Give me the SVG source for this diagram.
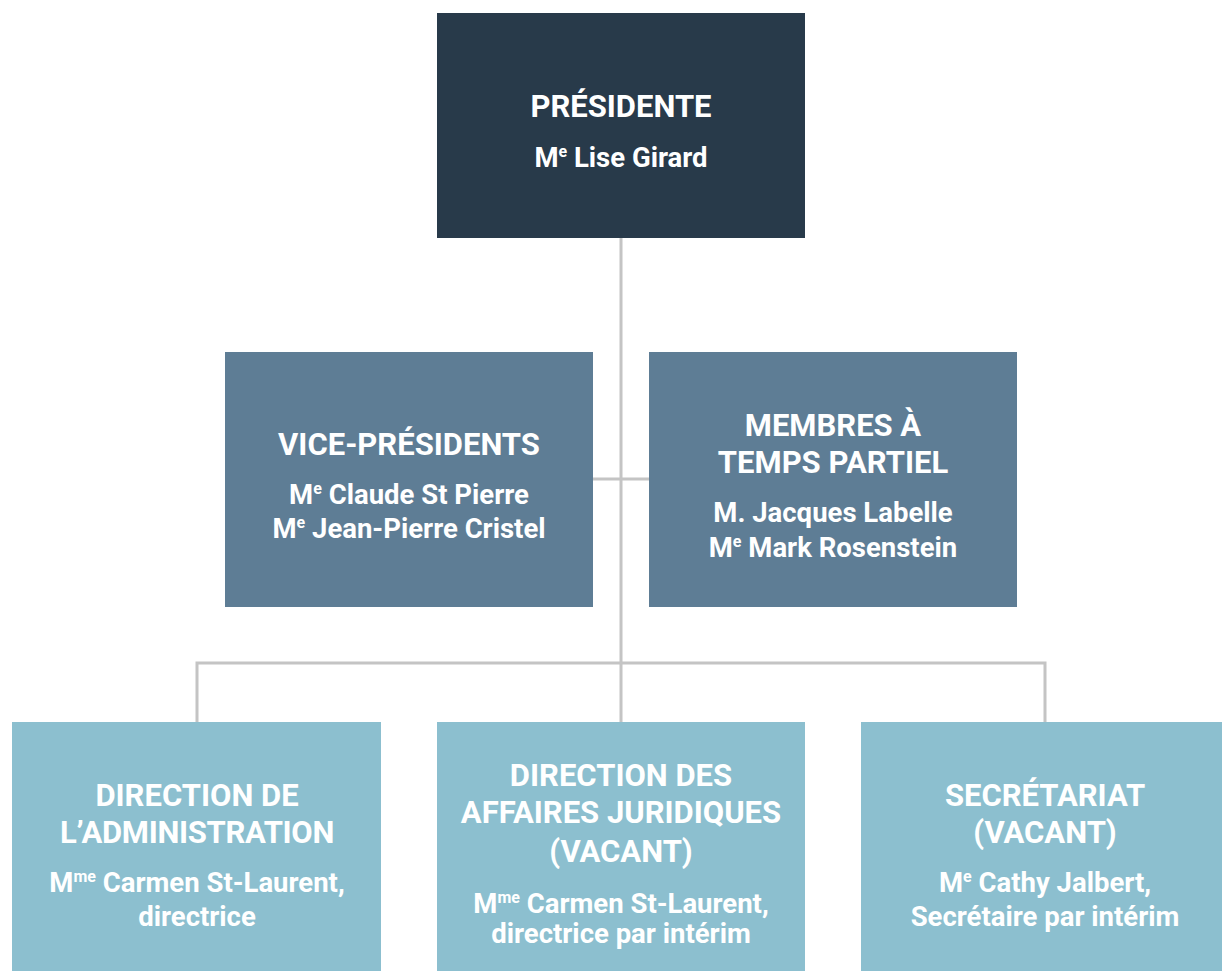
<svg xmlns="http://www.w3.org/2000/svg" width="1222" height="971" viewBox="0 0 1222 971">
<style>
.dark{fill:#283a4a}
.mid{fill:#5e7d95}
.light{fill:#8cbfcf}
.t{font-family:Roboto,"Liberation Sans",sans-serif;font-weight:700;fill:#ffffff;text-anchor:middle}
.h{font-size:31px}
.n{font-size:27.5px}
.sup{font-size:16px}
.conn{stroke:#c4c4c4;stroke-width:3;fill:none}
</style>
<rect width="1222" height="971" fill="#ffffff"/>
<g id="connectors">
<path class="conn" d="M621 238V722M593 479H649M197 722V663H1045V722"/>
</g>
<g id="presidente">
<rect class="dark" x="437" y="13" width="368" height="225"/>
<text class="t h" x="621" y="117">PRÉSIDENTE</text>
<text class="t n" x="621" y="167">M<tspan class="sup" dy="-10">e</tspan><tspan dy="10"> Lise Girard</tspan></text>
</g>
<g id="vice-presidents">
<rect class="mid" x="225" y="352" width="368" height="255"/>
<text class="t h" x="409" y="455">VICE-PRÉSIDENTS</text>
<text class="t n" x="409" y="504">M<tspan class="sup" dy="-10">e</tspan><tspan dy="10"> Claude St Pierre</tspan></text>
<text class="t n" x="409" y="538">M<tspan class="sup" dy="-10">e</tspan><tspan dy="10"> Jean-Pierre Cristel</tspan></text>
</g>
<g id="membres">
<rect class="mid" x="649" y="352" width="368" height="255"/>
<text class="t h" x="833" y="436">MEMBRES À</text>
<text class="t h" x="833" y="473">TEMPS PARTIEL</text>
<text class="t n" x="833" y="522">M. Jacques Labelle</text>
<text class="t n" x="833" y="557">M<tspan class="sup" dy="-10">e</tspan><tspan dy="10"> Mark Rosenstein</tspan></text>
</g>
<g id="administration">
<rect class="light" x="12" y="722" width="369" height="249"/>
<text class="t h" x="197" y="806">DIRECTION DE</text>
<text class="t h" x="197" y="843" letter-spacing="-0.3">L’ADMINISTRATION</text>
<text class="t n" x="197" y="892">M<tspan class="sup" dy="-10">me</tspan><tspan dy="10"> Carmen St-Laurent,</tspan></text>
<text class="t n" x="197" y="926">directrice</text>
</g>
<g id="affaires-juridiques">
<rect class="light" x="437" y="722" width="368" height="249"/>
<text class="t h" x="621" y="786">DIRECTION DES</text>
<text class="t h" x="621" y="823">AFFAIRES JURIDIQUES</text>
<text class="t h" x="621" y="862">(VACANT)</text>
<text class="t n" x="621" y="913">M<tspan class="sup" dy="-10">me</tspan><tspan dy="10"> Carmen St-Laurent,</tspan></text>
<text class="t n" x="621" y="943">directrice par intérim</text>
</g>
<g id="secretariat">
<rect class="light" x="861" y="722" width="361" height="249"/>
<text class="t h" x="1045" y="806">SECRÉTARIAT</text>
<text class="t h" x="1045" y="843">(VACANT)</text>
<text class="t n" x="1045" y="892">M<tspan class="sup" dy="-10">e</tspan><tspan dy="10"> Cathy Jalbert,</tspan></text>
<text class="t n" x="1045" y="926">Secrétaire par intérim</text>
</g>
</svg>
